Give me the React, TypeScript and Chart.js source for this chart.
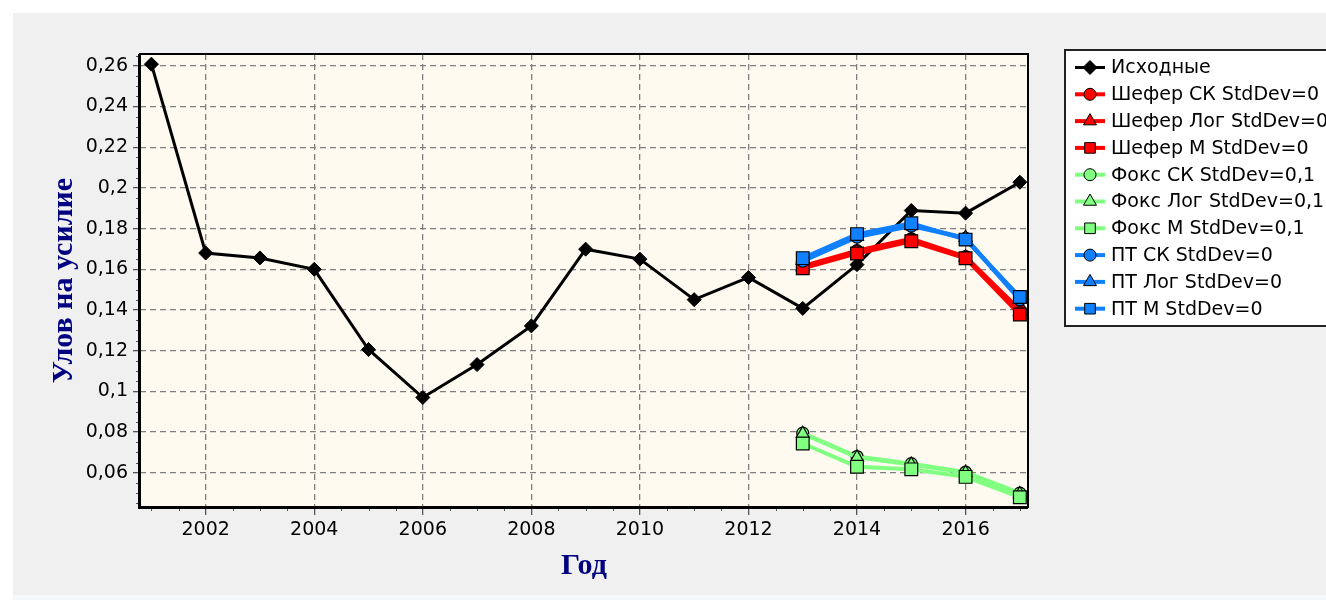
import React, { useEffect, useRef } from 'react';
import { Chart, registerables } from 'chart.js';

Chart.register(...registerables);

// ---- data ----
const years = [2001, 2002, 2003, 2004, 2005, 2006, 2007, 2008, 2009, 2010, 2011, 2012, 2013, 2014, 2015, 2016, 2017];
const observed = [0.2608, 0.168, 0.1656, 0.160, 0.1206, 0.097, 0.1132, 0.1322, 0.1699, 0.165, 0.1451, 0.156, 0.1408, 0.1623, 0.1889, 0.1876, 0.2028];

const forecastYears = [2013, 2014, 2015, 2016, 2017];
const sheferCK = [0.1615, 0.1692, 0.1750, 0.1662, 0.1400];
const sheferLog = [0.1612, 0.1688, 0.1746, 0.1659, 0.1392];
const sheferM = [0.1605, 0.1678, 0.1738, 0.1654, 0.1378];
const foxCK = [0.0795, 0.0680, 0.0645, 0.0603, 0.0500];
const foxLog = [0.0792, 0.0676, 0.0641, 0.0600, 0.0496];
const foxM = [0.0744, 0.0630, 0.0617, 0.0580, 0.0480];
const ptCK = [0.1640, 0.1758, 0.1812, 0.1752, 0.1450];
const ptLog = [0.1643, 0.1762, 0.1816, 0.1755, 0.1455];
const ptM = [0.1655, 0.1773, 0.1826, 0.1746, 0.1464];

const seriesLabels = [
  'Исходные',
  'Шефер СК StdDev=0',
  'Шефер Лог StdDev=0',
  'Шефер М StdDev=0',
  'Фокс СК StdDev=0,1',
  'Фокс Лог StdDev=0,1',
  'Фокс М StdDev=0,1',
  'ПТ СК StdDev=0',
  'ПТ Лог StdDev=0',
  'ПТ М StdDev=0',
];
const forecastValues = [sheferCK, sheferLog, sheferM, foxCK, foxLog, foxM, ptCK, ptLog, ptM];
const forecastColors = ['#FF0000', '#FF0000', '#FF0000', '#80FF80', '#80FF80', '#80FF80', '#1080FF', '#1080FF', '#1080FF'];
const forecastStyles = ['circle', 'triangle', 'rect', 'circle', 'triangle', 'rect', 'circle', 'triangle', 'rect'];

const xMin = 2000.79;
const xMax = 2017.15;
const yMin = 0.0432;
const yMax = 0.2658;

const TICK_FONT = '"DejaVu Sans", Verdana, sans-serif';
const radiusFor: Record<string, number> = { circle: 6, triangle: 7.5, rect: 9, rectRot: 7 };

function drawMarker(ctx: CanvasRenderingContext2D, style: string, x: number, y: number, r: number, fill: string, stroke: string) {
  ctx.save();
  ctx.beginPath();
  if (style === 'circle') {
    ctx.arc(x, y, r, 0, Math.PI * 2);
  } else if (style === 'triangle') {
    let rad = 0;
    ctx.moveTo(x + Math.sin(rad) * r, y - Math.cos(rad) * r);
    rad += (2 * Math.PI) / 3;
    ctx.lineTo(x + Math.sin(rad) * r, y - Math.cos(rad) * r);
    rad += (2 * Math.PI) / 3;
    ctx.lineTo(x + Math.sin(rad) * r, y - Math.cos(rad) * r);
  } else if (style === 'rect') {
    const s = Math.SQRT1_2 * r;
    ctx.rect(x - s, y - s, 2 * s, 2 * s);
  } else {
    ctx.moveTo(x - r, y);
    ctx.lineTo(x, y - r);
    ctx.lineTo(x + r, y);
    ctx.lineTo(x, y + r);
  }
  ctx.closePath();
  ctx.fillStyle = fill;
  ctx.fill();
  ctx.lineWidth = 1;
  ctx.strokeStyle = stroke;
  ctx.stroke();
  ctx.restore();
}

const backgroundPlugin = {
  id: 'bgPlugin',
  beforeDraw(chart: any) {
    const { ctx, width, height, chartArea } = chart;
    ctx.save();
    ctx.fillStyle = '#FFFFFF';
    ctx.fillRect(0, 0, width, height);
    ctx.fillStyle = '#F0F0F0';
    ctx.fillRect(13, 13, width - 13, 582);
    ctx.fillStyle = '#F4F8FC';
    ctx.fillRect(13, 595, width - 13, height - 595);
    ctx.fillStyle = '#FEFAF0';
    ctx.fillRect(chartArea.left, chartArea.top, chartArea.right - chartArea.left, chartArea.bottom - chartArea.top);
    ctx.restore();
  },
};

const decorPlugin = {
  id: 'decorPlugin',
  afterDraw(chart: any) {
    const { ctx, chartArea } = chart;
    const xs = chart.scales.x;
    const ys = chart.scales.y;
    ctx.save();
    // minor ticks
    ctx.strokeStyle = '#555';
    ctx.lineWidth = 1;
    ctx.beginPath();
    for (let v = Math.ceil(xMin * 2) / 2; v <= xMax; v += 0.5) {
      if (Math.abs(v / 2 - Math.round(v / 2)) < 1e-6) continue;
      const px = Math.round(xs.getPixelForValue(v)) + 0.5;
      ctx.moveTo(px, chartArea.bottom);
      ctx.lineTo(px, chartArea.bottom + 4);
    }
    for (let k = Math.ceil(yMin / 0.005); k * 0.005 <= yMax; k++) {
      if (k % 4 === 0) continue;
      const py = Math.round(ys.getPixelForValue(k * 0.005)) + 0.5;
      ctx.moveTo(chartArea.left - 4, py);
      ctx.lineTo(chartArea.left, py);
    }
    ctx.stroke();

    // plot frame
    ctx.strokeStyle = '#000';
    ctx.lineWidth = 2;
    ctx.strokeRect(chartArea.left, chartArea.top, chartArea.right - chartArea.left, chartArea.bottom - chartArea.top);
    ctx.lineWidth = 3;
    ctx.beginPath();
    ctx.moveTo(chartArea.left - 0.5, chartArea.top);
    ctx.lineTo(chartArea.left - 0.5, chartArea.bottom + 0.5);
    ctx.lineTo(chartArea.right, chartArea.bottom + 0.5);
    ctx.stroke();

    // axis titles
    ctx.fillStyle = '#000080';
    ctx.font = 'bold 30px "Liberation Serif", "Times New Roman", serif';
    ctx.textAlign = 'center';
    ctx.textBaseline = 'alphabetic';
    ctx.fillText('Год', (chartArea.left + chartArea.right) / 2, 574);
    ctx.save();
    ctx.translate(72, (chartArea.top + chartArea.bottom) / 2);
    ctx.rotate(-Math.PI / 2);
    ctx.fillText('Улов на усилие', 0, 0);
    ctx.restore();

    // legend
    const lx = 1065;
    const ly = 50;
    ctx.fillStyle = '#FFFFFF';
    ctx.fillRect(lx, ly, 400, 276);
    ctx.strokeStyle = '#222';
    ctx.lineWidth = 2;
    ctx.strokeRect(lx, ly, 400, 276);
    ctx.font = '19px ' + TICK_FONT;
    ctx.textAlign = 'left';
    ctx.textBaseline = 'middle';
    chart.data.datasets.forEach((ds: any, i: number) => {
      const y = 67.5 + i * 26.8;
      ctx.strokeStyle = ds.borderColor;
      ctx.lineWidth = ds.borderWidth;
      ctx.beginPath();
      ctx.moveTo(1075, y);
      ctx.lineTo(1105, y);
      ctx.stroke();
      const style = ds.pointStyle;
      drawMarker(ctx, style, 1090, y, Math.min(ds.pointRadius, 7.5), ds.pointBackgroundColor, ds.pointBorderColor);
      ctx.fillStyle = '#000';
      ctx.fillText(ds.label, 1111, y + 1);
    });
    ctx.restore();
  },
};

export default function App() {
  const ref = useRef<HTMLCanvasElement | null>(null);

  useEffect(() => {
    if (!ref.current) return;
    const n = forecastValues.length;
    const datasets: any[] = [
      {
        label: seriesLabels[0],
        data: years.map((yr, i) => ({ x: yr, y: observed[i] })),
        borderColor: '#000000',
        backgroundColor: '#000000',
        borderWidth: 3,
        pointStyle: 'rectRot',
        pointRadius: radiusFor.rectRot,
        pointBackgroundColor: '#000000',
        pointBorderColor: '#000000',
        pointBorderWidth: 1,
        tension: 0,
        order: n + 1,
        clip: 12,
      },
      ...forecastValues.map((vals, k) => ({
        label: seriesLabels[k + 1],
        data: forecastYears.map((yr, i) => ({ x: yr, y: vals[i] })),
        borderColor: forecastColors[k],
        backgroundColor: forecastColors[k],
        borderWidth: 4,
        pointStyle: forecastStyles[k],
        pointRadius: radiusFor[forecastStyles[k]],
        pointBackgroundColor: forecastColors[k],
        pointBorderColor: '#000000',
        pointBorderWidth: 1.2,
        tension: 0,
        order: n - k,
        clip: 12,
      })),
    ];

    const chart = new Chart(ref.current, {
      type: 'line',
      data: { datasets },
      options: {
        responsive: false,
        animation: false,
        devicePixelRatio: 1,
        events: [],
        layout: { padding: { left: 0, top: 54, right: 298, bottom: 0 } },
        plugins: { legend: { display: false }, tooltip: { enabled: false } },
        scales: {
          x: {
            type: 'linear',
            min: xMin,
            max: xMax,
            afterFit(scale: any) {
              scale.height = 93;
            },
            ticks: {
              stepSize: 2,
              includeBounds: false,
              maxRotation: 0,
              autoSkip: false,
              padding: 4,
              color: '#000',
              font: { family: TICK_FONT, size: 19 },
              callback: (v: any) => String(Math.round(Number(v))),
            },
            grid: {
              color: '#808080',
              lineWidth: 1.3,
              tickLength: 8,
              tickColor: '#555',
              drawTicks: true,
            },
            border: { display: false, dash: [6, 4] },
          },
          y: {
            type: 'linear',
            min: yMin,
            max: yMax,
            afterFit(scale: any) {
              scale.width = 140;
            },
            ticks: {
              stepSize: 0.02,
              includeBounds: false,
              padding: 5,
              color: '#000',
              font: { family: TICK_FONT, size: 19 },
              callback: (v: any) => String(Math.round(Number(v) * 100) / 100).replace('.', ','),
            },
            grid: {
              color: '#808080',
              lineWidth: 1.3,
              tickLength: 7,
              tickColor: '#555',
              drawTicks: true,
            },
            border: { display: false, dash: [6, 4] },
          },
        },
      } as any,
      plugins: [backgroundPlugin, decorPlugin],
    });
    return () => chart.destroy();
  }, []);

  return (
    <div style={{ position: 'fixed', left: 0, top: 0, width: 1326, height: 600 }}>
      <canvas ref={ref} width={1326} height={600} style={{ display: 'block', width: 1326, height: 600 }} />
    </div>
  );
}
